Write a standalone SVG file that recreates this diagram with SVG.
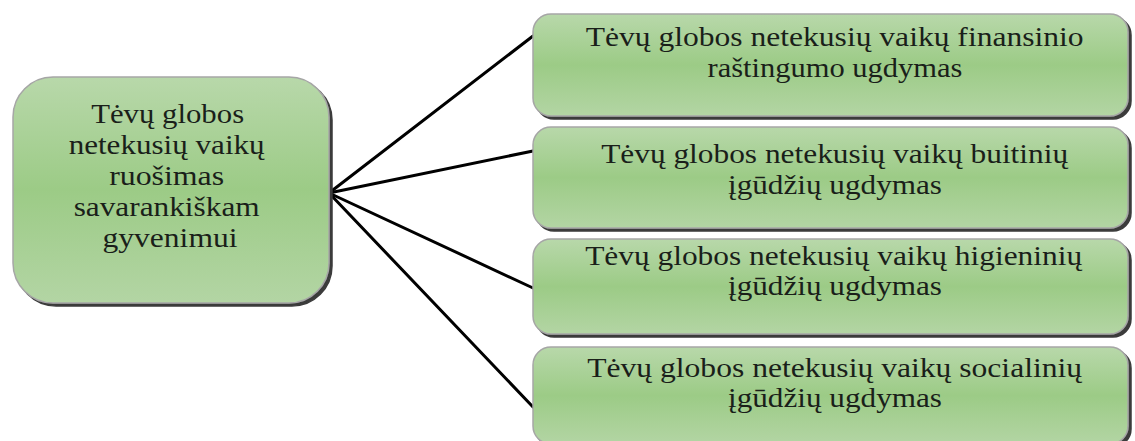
<svg xmlns="http://www.w3.org/2000/svg" width="1135" height="441" viewBox="0 0 1135 441">
  <defs>
    <linearGradient id="g" x1="0" y1="0" x2="0" y2="1">
      <stop offset="0" stop-color="#b8d8aa"/>
      <stop offset="0.5" stop-color="#9ccb86"/>
      <stop offset="1" stop-color="#b3d5a4"/>
    </linearGradient>
    <filter id="sh" x="-5%" y="-5%" width="115%" height="125%">
      <feDropShadow dx="3" dy="3" stdDeviation="0.7" flood-color="#3a3a3a" flood-opacity="1"/>
    </filter>
  </defs>
  <style>
    .box { fill: url(#g); stroke: #a6a6a6; stroke-width: 1.5; filter: url(#sh); }
    .t { font-family: "Liberation Serif", "Times New Roman", serif; font-size: 27px; fill: #1a1f1a; text-anchor: middle; }
    .c { stroke: #000; stroke-width: 3; fill: none; stroke-linecap: round; }
  </style>
  <rect width="1135" height="441" fill="#ffffff"/>
  <g id="connectors">
    <line class="c" x1="329" y1="193" x2="533" y2="36"/>
    <line class="c" x1="329" y1="193" x2="533" y2="151"/>
    <line class="c" x1="329" y1="193" x2="533" y2="288"/>
    <line class="c" x1="329" y1="193" x2="533" y2="407"/>
  </g>
  <g id="root">
    <rect class="box" x="13" y="77" width="316" height="226" rx="40"/>
    <text class="t">
      <tspan x="171" y="123" textLength="153" lengthAdjust="spacingAndGlyphs">Tėvų globos</tspan>
      <tspan x="170" y="154" textLength="196" lengthAdjust="spacingAndGlyphs">netekusių vaikų</tspan>
      <tspan x="170" y="185" textLength="115" lengthAdjust="spacingAndGlyphs">ruošimas</tspan>
      <tspan x="170" y="216" textLength="186" lengthAdjust="spacingAndGlyphs">savarankiškam</tspan>
      <tspan x="170" y="247" textLength="135" lengthAdjust="spacingAndGlyphs">gyvenimui</tspan>
    </text>
  </g>
  <g id="n1">
    <rect class="box" x="533" y="14" width="595" height="102" rx="18"/>
    <text class="t">
      <tspan x="838" y="46" textLength="498" lengthAdjust="spacingAndGlyphs">Tėvų globos netekusių vaikų finansinio</tspan>
      <tspan x="835" y="77" textLength="255" lengthAdjust="spacingAndGlyphs">raštingumo ugdymas</tspan>
    </text>
  </g>
  <g id="n2">
    <rect class="box" x="533" y="127" width="595" height="101" rx="18"/>
    <text class="t">
      <tspan x="838" y="163" textLength="467" lengthAdjust="spacingAndGlyphs">Tėvų globos netekusių vaikų buitinių</tspan>
      <tspan x="835" y="194" textLength="214" lengthAdjust="spacingAndGlyphs">įgūdžių ugdymas</tspan>
    </text>
  </g>
  <g id="n3">
    <rect class="box" x="533" y="239" width="595" height="95" rx="18"/>
    <text class="t">
      <tspan x="837" y="265" textLength="497" lengthAdjust="spacingAndGlyphs">Tėvų globos netekusių vaikų higieninių</tspan>
      <tspan x="835" y="295" textLength="214" lengthAdjust="spacingAndGlyphs">įgūdžių ugdymas</tspan>
    </text>
  </g>
  <g id="n4">
    <rect class="box" x="533" y="347" width="595" height="97" rx="18"/>
    <text class="t">
      <tspan x="838" y="377" textLength="495" lengthAdjust="spacingAndGlyphs">Tėvų globos netekusių vaikų socialinių</tspan>
      <tspan x="835" y="407" textLength="214" lengthAdjust="spacingAndGlyphs">įgūdžių ugdymas</tspan>
    </text>
  </g>
</svg>
